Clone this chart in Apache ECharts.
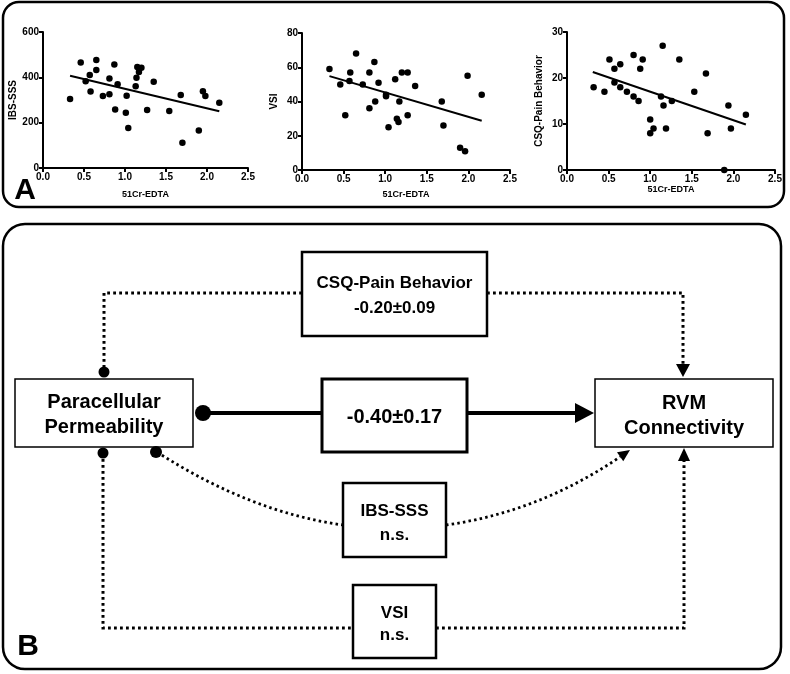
<!DOCTYPE html>
<html>
<head>
<meta charset="utf-8">
<script src="https://cdn.jsdelivr.net/npm/echarts@6/dist/echarts.min.js"></script>
<style>
  html, body { margin: 0; padding: 0; background: #fff; }
  #main { width: 790px; height: 674px; }
</style>
</head>
<body>
<div id="main"></div>
<script>
// ---- panel A: values ----
const xTicks = [0, 0.5, 1.0, 1.5, 2.0, 2.5];

const ibsX = [0.33,0.46,0.52,0.57,0.58,0.65,0.65,0.73,0.81,0.81,0.87,0.88,0.91,1.01,1.02,1.04,1.13,1.14,1.15,1.17,1.20,1.27,1.35,1.54,1.68,1.70,1.90,1.95,1.98,2.15];
const ibsY = [304,465,383,410,337,476,432,318,395,325,457,258,369,244,319,176,361,398,446,424,442,256,380,252,322,111,165,339,318,288];
const ibsFitX = [0.33, 2.15];
const ibsFitY = [407, 250];

const vsiX = [0.33,0.46,0.52,0.57,0.58,0.65,0.73,0.81,0.81,0.87,0.88,0.92,1.01,1.01,1.04,1.12,1.14,1.16,1.17,1.20,1.27,1.27,1.36,1.68,1.70,1.90,1.96,1.99,2.16];
const vsiY = [59,50,32,52,57,68,50,57,36,63,40,51,44,43,25,53,30,28,40,57,57,32,49,40,26,13,11,55,44];
const vsiFitX = [0.33, 2.16];
const vsiFitY = [54.8, 28.8];

const csqX = [0.32,0.45,0.51,0.57,0.57,0.64,0.64,0.72,0.80,0.80,0.86,0.88,0.91,1.00,1.00,1.04,1.13,1.15,1.16,1.19,1.26,1.35,1.53,1.67,1.69,1.89,1.94,1.97,2.15];
const csqY = [18,17,24,22,19,23,18,17,25,16,15,22,24,11,8,9,16,27,14,9,15,24,17,21,8,0,14,9,12];
const csqFitX = [0.31, 2.15];
const csqFitY = [21.3, 9.9];

const yNames = ['IBS-SSS', 'VSI', 'CSQ-Pain Behavior'];
const yMax = [600, 80, 30];
const yStep = [200, 20, 10];
const xName = '51Cr-EDTA';

// ---- panel B: diagram labels ----
const nodeLeft = ['Paracellular', 'Permeability'];
const nodeRight = ['RVM', 'Connectivity'];
const csqLabel = ['CSQ-Pain Behavior', '-0.20\u00b10.09'];
const directLabel = '-0.40\u00b10.17';
const ibsLabel = ['IBS-SSS', 'n.s.'];
const vsiLabel = ['VSI', 'n.s.'];

const FONT = '"Liberation Sans", Arial, sans-serif';

const zip = (a, b) => a.map((v, i) => [v, b[i]]);

const chart = echarts.init(document.getElementById('main'), null, { renderer: 'canvas' });

// grids for the three small scatter plots
const grids = [
  { left: 43, top: 32, width: 205, height: 136 },
  { left: 302, top: 33, width: 208, height: 137 },
  { left: 567, top: 32, width: 208, height: 138 }
];
const xNameGap = [22, 20, 14];

const xAxes = grids.map((g, i) => ({
  gridIndex: i,
  type: 'value',
  min: 0, max: 2.5, interval: 0.5,
  name: xName,
  nameLocation: 'middle',
  nameGap: xNameGap[i],
  nameTextStyle: { color: '#000', fontSize: 9, fontWeight: 'bold', fontFamily: FONT },
  axisLine: { show: true, onZero: false, lineStyle: { color: '#000', width: 2 } },
  axisTick: { show: true, length: 4, lineStyle: { color: '#000', width: 2 } },
  axisLabel: { color: '#000', fontSize: 10, fontWeight: 'bold', fontFamily: FONT, margin: 4,
    formatter: v => v.toFixed(1) },
  splitLine: { show: false }
}));

const yAxes = grids.map((g, i) => ({
  gridIndex: i,
  type: 'value',
  min: 0, max: yMax[i], interval: yStep[i],
  name: yNames[i],
  nameLocation: 'middle',
  nameRotate: 90,
  nameGap: 23,
  nameTextStyle: { color: '#000', fontSize: 10, fontWeight: 'bold', fontFamily: FONT },
  axisLine: { show: true, onZero: false, lineStyle: { color: '#000', width: 2 } },
  axisTick: { show: true, length: 4, lineStyle: { color: '#000', width: 2 } },
  axisLabel: { color: '#000', fontSize: 10, fontWeight: 'bold', fontFamily: FONT, margin: 4 },
  splitLine: { show: false }
}));

const scatterData = [zip(ibsX, ibsY), zip(vsiX, vsiY), zip(csqX, csqY)];
const fitData = [zip(ibsFitX, ibsFitY), zip(vsiFitX, vsiFitY), zip(csqFitX, csqFitY)];

const series = [];
scatterData.forEach((d, i) => {
  series.push({
    type: 'scatter', xAxisIndex: i, yAxisIndex: i, data: d,
    symbolSize: 6.5, itemStyle: { color: '#000', opacity: 1 }, clip: false, silent: true
  });
  series.push({
    type: 'line', xAxisIndex: i, yAxisIndex: i, data: fitData[i],
    symbol: 'none', lineStyle: { color: '#000', width: 2 }, silent: true
  });
});

// ---- panel B drawing helpers ----
const els = [];
const stroke = '#000';
function box(x, y, w, h, lw) {
  els.push({ type: 'rect', shape: { x, y, width: w, height: h },
    style: { fill: '#fff', stroke, lineWidth: lw }, z: 5 });
}
function text(t, x, y, size) {
  els.push({ type: 'text', x, y, z: 10,
    style: { text: t, fill: '#000', fontSize: size, fontWeight: 'bold', fontFamily: FONT,
      align: 'center', verticalAlign: 'middle' } });
}
function dotted(points) {
  els.push({ type: 'polyline', shape: { points },
    style: { stroke, lineWidth: 3, lineDash: [2.8, 3.2], fill: null }, z: 2 });
}
function dot(cx, cy, r) {
  els.push({ type: 'circle', shape: { cx, cy, r }, style: { fill: '#000' }, z: 6 });
}
function head(tipX, tipY, dx, dy, len, half) {
  const n = Math.hypot(dx, dy); dx /= n; dy /= n;
  const bx = tipX - dx * len, by = tipY - dy * len;
  els.push({ type: 'polygon', z: 6,
    shape: { points: [[tipX, tipY], [bx - dy * half, by + dx * half], [bx + dy * half, by - dx * half]] },
    style: { fill: '#000' } });
  return [bx, by];
}

// panel frames
els.push({ type: 'rect', shape: { x: 3, y: 2, width: 781, height: 205, r: 16 },
  style: { fill: null, stroke, lineWidth: 2.5 }, z: 1 });
els.push({ type: 'rect', shape: { x: 3, y: 224, width: 778, height: 445, r: 22 },
  style: { fill: null, stroke, lineWidth: 2.5 }, z: 1 });
text('A', 25, 191, 30);
text('B', 28, 647, 30);

// CSQ path (top)
dotted([[302, 293], [104, 293], [104, 372]]);
dot(104, 372, 5.5);
dotted([[487, 293], [683, 293], [683, 364]]);
head(683, 377, 0, 1, 13, 7);
box(302, 252, 185, 84, 2.5);
text(csqLabel[0], 394.5, 283, 17);
text(csqLabel[1], 394.5, 308, 17);

// direct path
els.push({ type: 'line', shape: { x1: 203, y1: 413, x2: 322, y2: 413 },
  style: { stroke, lineWidth: 4 }, z: 3 });
els.push({ type: 'line', shape: { x1: 467, y1: 413, x2: 577, y2: 413 },
  style: { stroke, lineWidth: 4 }, z: 3 });
dot(203, 413, 8);
head(594, 413, 1, 0, 19, 10);
box(322, 379, 145, 73, 3);
text(directLabel, 394.5, 417, 20);

// IBS-SSS curved path
const curveStyle = { stroke, lineWidth: 2.8, lineDash: [2.5, 3.2], fill: null };
els.push({ type: 'bezierCurve', shape: { x1: 157, y1: 452, cpx1: 250, cpy1: 512, x2: 343, y2: 525 },
  style: curveStyle, z: 2 });
dot(156, 452, 6);
const hb = head(630, 450, 91, -63, 12, 5.5);
els.push({ type: 'bezierCurve', shape: { x1: 446, y1: 525, cpx1: 539, cpy1: 512, x2: hb[0], y2: hb[1] },
  style: curveStyle, z: 2 });
box(343, 483, 103, 74, 2.5);
text(ibsLabel[0], 394.5, 511, 17);
text(ibsLabel[1], 394.5, 535, 17);

// VSI path (bottom)
dotted([[103, 453], [103, 628], [353, 628]]);
dot(103, 453, 5.5);
dotted([[436, 628], [684, 628], [684, 461]]);
head(684, 448, 0, -1, 13, 6);
box(353, 585, 83, 73, 2.5);
text(vsiLabel[0], 394.5, 613, 17);
text(vsiLabel[1], 394.5, 635, 17);

// end nodes
box(15, 379, 178, 68, 1.5);
text(nodeLeft[0], 104, 402, 20);
text(nodeLeft[1], 104, 427, 20);
box(595, 379, 178, 68, 1.5);
text(nodeRight[0], 684, 403, 20);
text(nodeRight[1], 684, 428, 20);

const option = {
  backgroundColor: '#fff',
  animation: false,
  grid: grids,
  xAxis: xAxes,
  yAxis: yAxes,
  series,
  graphic: { elements: els }
};

chart.setOption(option);
</script>
</body>
</html>
